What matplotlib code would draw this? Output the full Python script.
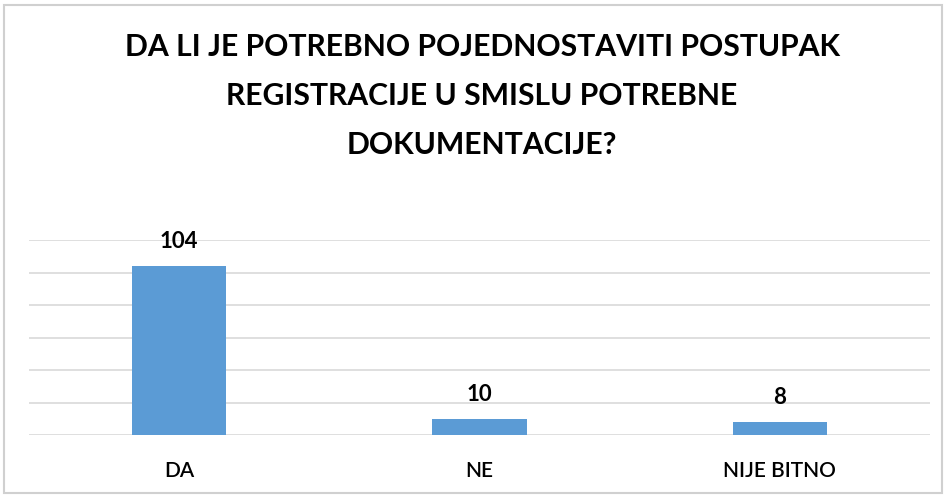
import matplotlib
matplotlib.use("Agg")
import matplotlib.pyplot as plt
from matplotlib.patches import Rectangle

categories = ["DA", "NE", "NIJE BITNO"]
values = [104, 10, 8]
title = "DA LI JE POTREBNO POJEDNOSTAVITI POSTUPAK\nREGISTRACIJE U SMISLU POTREBNE\nDOKUMENTACIJE?"

plt.rcParams['font.family'] = ['Lato', 'DejaVu Sans']

fig = plt.figure(figsize=(9.47, 4.97), dpi=100)
ax = fig.add_axes([29/947, 1-435/497, (930-29)/947, (435-240)/497])

x = range(len(categories))
bars = ax.bar(x, values, width=0.313, color="#5b9bd5", zorder=3)
ax.set_xlim(-0.5, 2.5)
ax.set_ylim(0, 120)
ax.set_yticks(range(0, 121, 20))
ax.yaxis.grid(True, color="#d9d9d9", linewidth=1.2, zorder=0)
ax.tick_params(axis='y', left=False, labelleft=False)
ax.tick_params(axis='x', length=0, pad=19, labelsize=15)
ax.set_xticks(list(x))
ax.set_xticklabels(categories, fontweight='semibold', color="#000000")
for s in ax.spines.values():
    s.set_visible(False)

for xi, v in zip(x, values):
    ax.annotate(str(v), (xi, v), xytext=(0, 10), textcoords='offset points',
                ha='center', va='bottom', fontsize=16, fontweight='bold')

fig.text(482/947, 1-96/497, title, ha='center', va='center', fontsize=21.7,
         fontweight='bold', linespacing=1.9, multialignment='center')

fig.patches.append(Rectangle((4/947, 4/497), 1-9/947, 1-9/497, transform=fig.transFigure,
                             fill=False, edgecolor="#d0d0d0", linewidth=1.5))

fig.savefig("out.png", dpi=100)
